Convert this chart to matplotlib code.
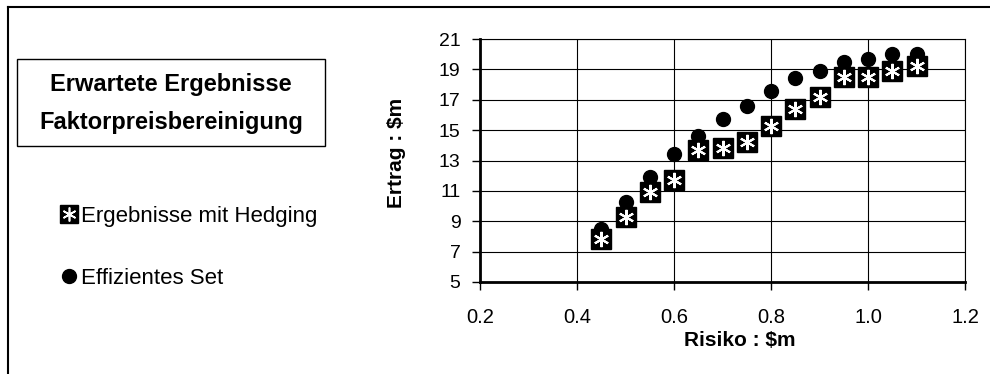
import numpy as np
import matplotlib
matplotlib.use("Agg")
import matplotlib.pyplot as plt
from matplotlib.lines import Line2D
from matplotlib.patches import Rectangle
from matplotlib.ticker import FormatStrFormatter

plt.rcParams['font.family'] = ['Liberation Sans', 'DejaVu Sans']

# data
risk = [0.45, 0.50, 0.55, 0.60, 0.65, 0.70, 0.75, 0.80, 0.85, 0.90, 0.95, 1.00, 1.05, 1.10]
hedging = [7.8, 9.3, 10.9, 11.7, 13.7, 13.8, 14.2, 15.3, 16.4, 17.2, 18.5, 18.5, 18.9, 19.2]
efficient = [8.5, 10.3, 11.9, 13.4, 14.6, 15.7, 16.6, 17.6, 18.4, 18.9, 19.5, 19.7, 20.0, 20.0]
x_ticks = [0.2, 0.4, 0.6, 0.8, 1.0, 1.2]
y_ticks = [5, 7, 9, 11, 13, 15, 17, 19, 21]

W, H = 990, 374
fig = plt.figure(figsize=(W / 100, H / 100), dpi=100)
ax = fig.add_axes([480 / W, 1 - 282 / H, (965 - 480) / W, (282 - 39) / H])

ax.plot(risk, efficient, 'o', color='black', ms=10, ls='none', zorder=3)
ax.plot(risk, hedging, 's', color='black', ms=14, ls='none', zorder=4)
ax.plot(risk, hedging, marker=(6, 2, 0), color='white', mec='white', mew=1.5,
        ms=11, ls='none', zorder=5)

ax.set_xlim(0.2, 1.2)
ax.set_ylim(5, 21)
ax.set_xticks(x_ticks)
ax.set_yticks(y_ticks)
ax.xaxis.set_major_formatter(FormatStrFormatter('%.1f'))
ax.grid(True, color='black', lw=0.8)
ax.set_axisbelow(True)
ax.tick_params(direction='out', length=6, width=1, colors='black')
ax.tick_params(axis='x', labelsize=14.5, pad=13)
ax.tick_params(axis='y', labelsize=14, pad=8)
ax.spines['left'].set_linewidth(2)
ax.spines['bottom'].set_linewidth(2)
ax.spines['top'].set_linewidth(0.8)
ax.spines['right'].set_linewidth(0.8)
ax.set_xlabel('Risiko : $m', fontsize=15, fontweight='bold')
ax.set_ylabel('Ertrag : $m', fontsize=15, fontweight='bold')
ax.xaxis.set_label_coords(0.535, -(340 - 282) / 243)
ax.yaxis.set_label_coords(-(480 - 397) / 485, 1 - (153 - 39) / 243)
ax.yaxis.label.set_va('center')
ax.xaxis.label.set_va('center')

# outer frame (top and left only visible)
fig.add_artist(Line2D([8 / W, 8 / W], [0, 1 - 7 / H], color='black', lw=1.5,
                      transform=fig.transFigure))
fig.add_artist(Line2D([8 / W, 1], [1 - 7 / H, 1 - 7 / H], color='black', lw=1.5,
                      transform=fig.transFigure))

# title box
fig.add_artist(Rectangle((17 / W, 1 - 146 / H), (325 - 17) / W, (146 - 59) / H,
                         fill=False, ec='black', lw=1, transform=fig.transFigure))
fig.text(171 / W, 1 - 84 / H, 'Erwartete Ergebnisse', ha='center', va='center',
         fontsize=17, fontweight='bold')
fig.text(171 / W, 1 - 122 / H, 'Faktorpreisbereinigung', ha='center', va='center',
         fontsize=17, fontweight='bold')

# legend
h1 = (Line2D([], [], marker='s', color='black', ms=13, ls='none'),
      Line2D([], [], marker=(6, 2, 0), color='white', mec='white', mew=1.2, ms=10, ls='none'))
h2 = Line2D([], [], marker='o', color='black', ms=10, ls='none')
fig.legend([h1, h2], ['Ergebnisse mit Hedging', 'Effizientes Set'],
           loc='upper left', bbox_to_anchor=(60 / W, 1 - 206 / H),
           frameon=False, fontsize=16, handlelength=0.8, handletextpad=0.15,
           labelspacing=1.85, borderpad=0, borderaxespad=0)

fig.savefig('out.png', dpi=100)
